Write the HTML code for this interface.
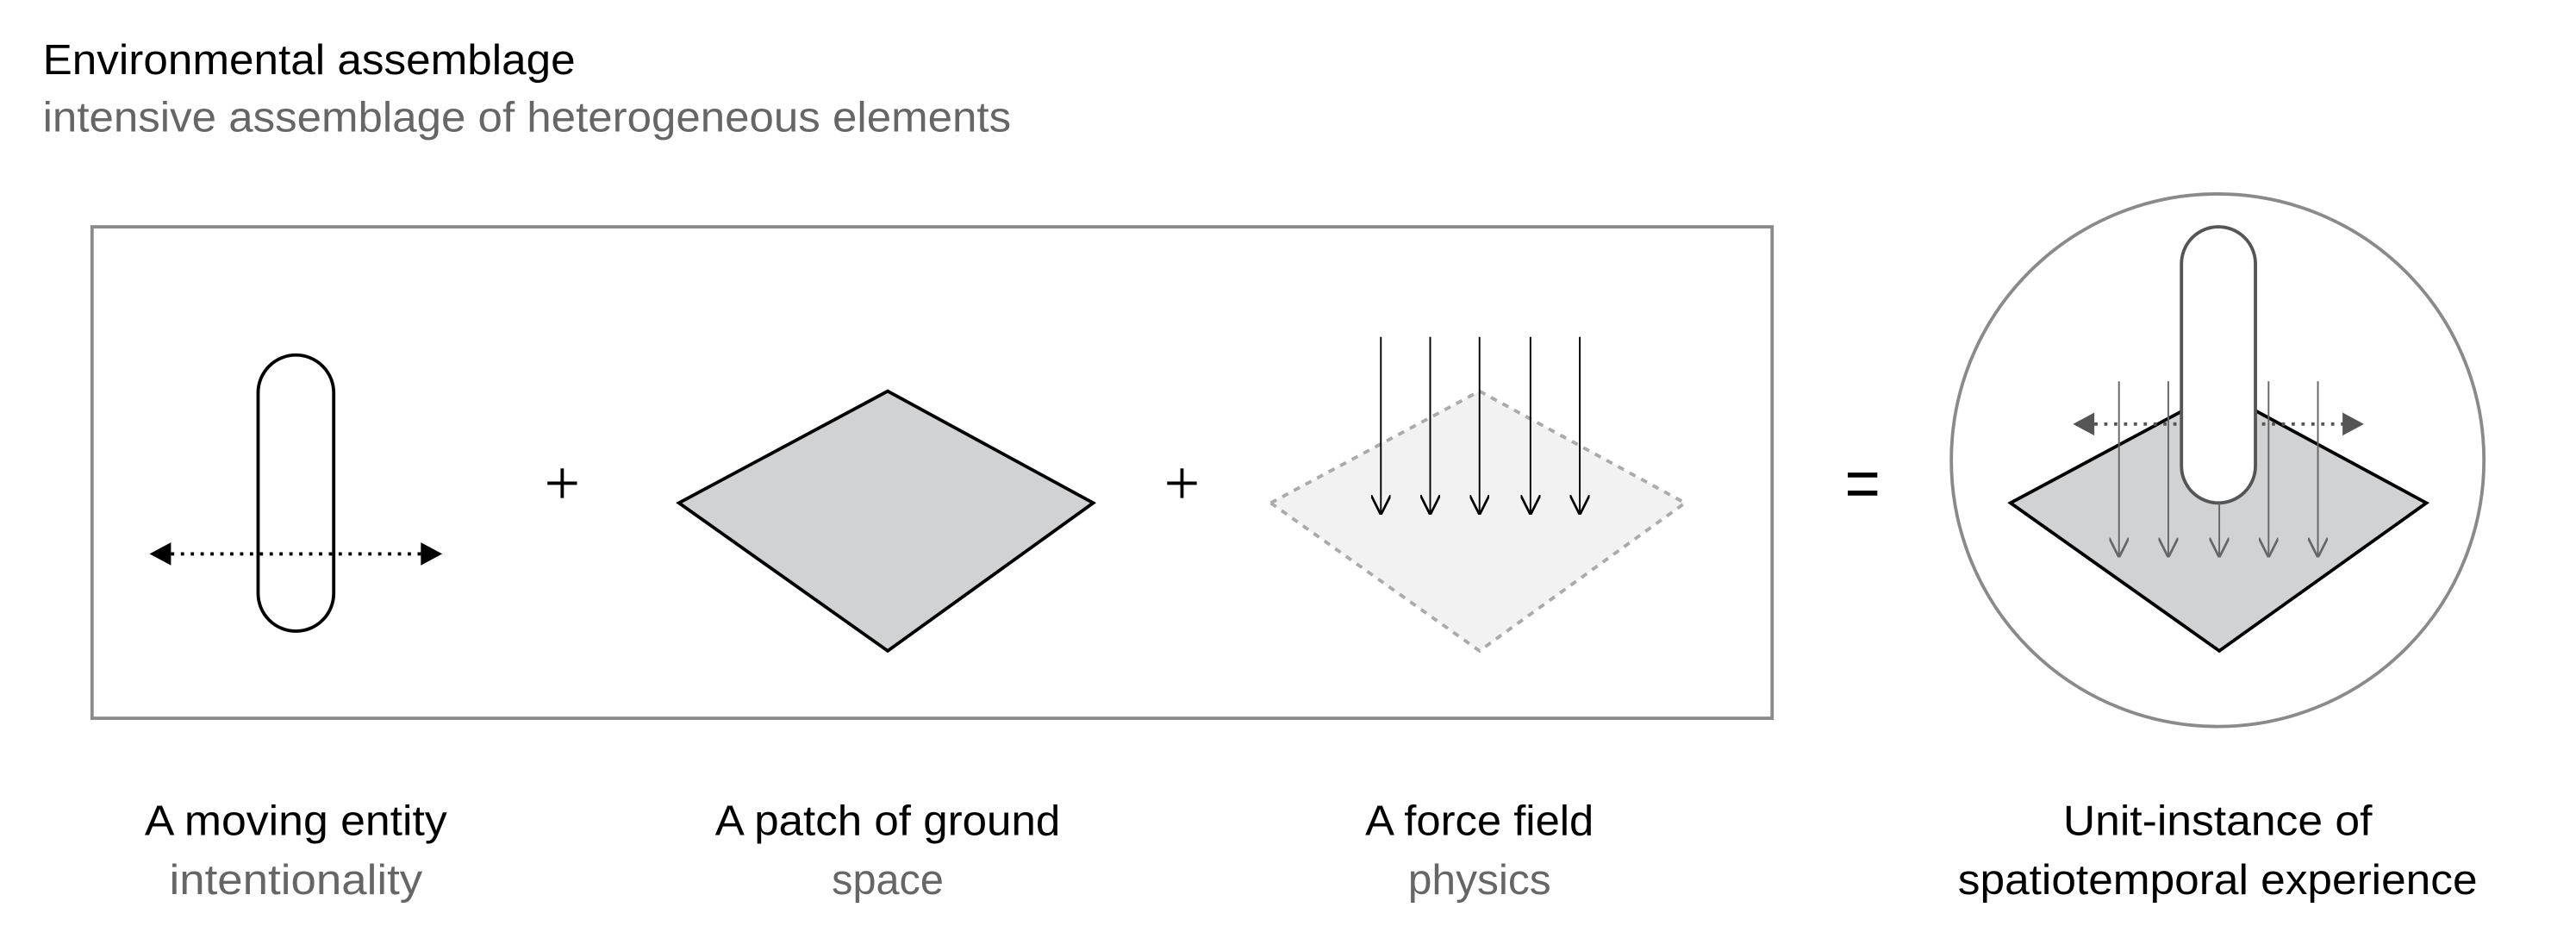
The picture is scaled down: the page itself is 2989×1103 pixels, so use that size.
<!DOCTYPE html>
<html><head><meta charset="utf-8"><style>
html,body{margin:0;padding:0;background:#fff;width:2989px;height:1103px;overflow:hidden}
svg{display:block}
text{font-family:"Liberation Sans",sans-serif;font-size:26px}
</style></head><body>
<svg width="2989" height="1103" viewBox="0 0 1567 578.6" preserveAspectRatio="none">
<defs>
<marker id="ah" viewBox="0 0 10 10" refX="9" refY="5" markerWidth="12" markerHeight="12" markerUnits="userSpaceOnUse" orient="auto"><path d="M0,0 L10,5 L0,10" fill="none" stroke="#000" stroke-width="1.2"/></marker>
<marker id="ahg" viewBox="0 0 10 10" refX="9" refY="5" markerWidth="12" markerHeight="12" markerUnits="userSpaceOnUse" orient="auto"><path d="M0,0 L10,5 L0,10" fill="none" stroke="#666" stroke-width="1.2"/></marker>
</defs>
<text x="26" y="45" fill="#000" textLength="324" lengthAdjust="spacingAndGlyphs">Environmental assemblage</text>
<text x="26" y="80" fill="#666" textLength="589" lengthAdjust="spacingAndGlyphs">intensive assemblage of heterogeneous elements</text>
<rect x="56" y="138" width="1022" height="299" fill="none" stroke="#8a8a8a" stroke-width="2"/>
<g>
<rect x="157" y="216" width="46" height="168" rx="23" fill="#fff" stroke="#000" stroke-width="2"/>
<line x1="104" y1="337" x2="257" y2="337" stroke="#000" stroke-width="2" stroke-dasharray="2,4"/>
<polygon points="91,337 104,330 104,344" fill="#000"/><polygon points="269,337 256,330 256,344" fill="#000"/>
</g>
<g stroke="#000" stroke-width="2"><line x1="333" y1="294" x2="351" y2="294"/><line x1="342" y1="285" x2="342" y2="303"/></g>
<polygon points="413,306 540,238 665,306 540,396" fill="#d1d2d4" stroke="#000" stroke-width="2"/>
<g stroke="#000" stroke-width="2"><line x1="710" y1="294" x2="728" y2="294"/><line x1="719" y1="285" x2="719" y2="303"/></g>
<g>
<polygon points="773,306 900,238 1025,306 900,396" fill="#f2f2f2" stroke="#aaa" stroke-width="2" stroke-dasharray="4,4"/>
<line x1="840" y1="205" x2="840" y2="312" stroke="#000" stroke-width="1" marker-end="url(#ah)"/>
<line x1="870" y1="205" x2="870" y2="312" stroke="#000" stroke-width="1" marker-end="url(#ah)"/>
<line x1="900" y1="205" x2="900" y2="312" stroke="#000" stroke-width="1" marker-end="url(#ah)"/>
<line x1="931" y1="205" x2="931" y2="312" stroke="#000" stroke-width="1" marker-end="url(#ah)"/>
<line x1="961" y1="205" x2="961" y2="312" stroke="#000" stroke-width="1" marker-end="url(#ah)"/>
</g>
<g stroke="#000" stroke-width="3"><line x1="1124" y1="289" x2="1142" y2="289"/><line x1="1124" y1="300" x2="1142" y2="300"/></g>
<g>
<circle cx="1349" cy="280" r="162" fill="none" stroke="#8a8a8a" stroke-width="2"/>
<polygon points="1223,306 1350,238 1476,306 1350,396" fill="#d1d2d4" stroke="#000" stroke-width="2"/>
<line x1="1289" y1="232" x2="1289" y2="338" stroke="#666" stroke-width="1" marker-end="url(#ahg)"/>
<line x1="1319" y1="232" x2="1319" y2="338" stroke="#666" stroke-width="1" marker-end="url(#ahg)"/>
<line x1="1380" y1="232" x2="1380" y2="338" stroke="#666" stroke-width="1" marker-end="url(#ahg)"/>
<line x1="1410" y1="232" x2="1410" y2="338" stroke="#666" stroke-width="1" marker-end="url(#ahg)"/>
<line x1="1274" y1="258" x2="1426" y2="258" stroke="#555" stroke-width="2" stroke-dasharray="2,4"/>
<polygon points="1261,258 1274,251 1274,265" fill="#555"/><polygon points="1438,258 1425,251 1425,265" fill="#555"/>
<rect x="1327" y="138" width="45" height="168" rx="22.5" fill="#fff" stroke="#555" stroke-width="2"/>
<line x1="1350" y1="306" x2="1350" y2="338" stroke="#666" stroke-width="1" marker-end="url(#ahg)"/>
</g>
<g text-anchor="middle">
<text x="180" y="508" textLength="184" lengthAdjust="spacingAndGlyphs">A moving entity</text>
<text x="180" y="544" fill="#666" textLength="154" lengthAdjust="spacingAndGlyphs">intentionality</text>
<text x="540" y="508" textLength="210" lengthAdjust="spacingAndGlyphs">A patch of ground</text>
<text x="540" y="544" fill="#666" textLength="68" lengthAdjust="spacingAndGlyphs">space</text>
<text x="900" y="508" textLength="139" lengthAdjust="spacingAndGlyphs">A force field</text>
<text x="900" y="544" fill="#666" textLength="87" lengthAdjust="spacingAndGlyphs">physics</text>
<text x="1349" y="508" textLength="188" lengthAdjust="spacingAndGlyphs">Unit-instance of</text>
<text x="1349" y="544" textLength="316" lengthAdjust="spacingAndGlyphs">spatiotemporal experience</text>
</g>
</svg>
</body></html>
